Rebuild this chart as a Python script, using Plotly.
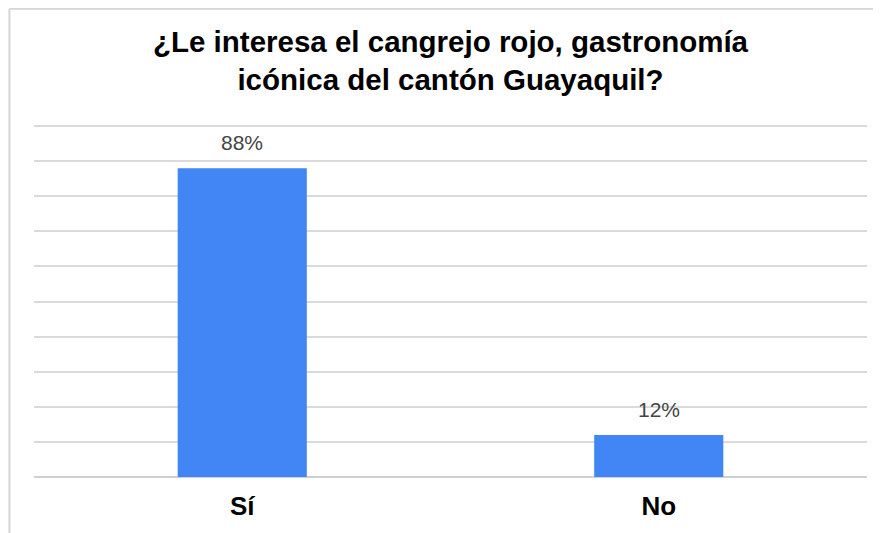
import plotly.graph_objects as go

# respuestas de la encuesta
categorias = ['Sí', 'No']
porcentajes = [88, 12]
etiquetas = ['88%', '12%']

titulo = '¿Le interesa el cangrejo rojo, gastronomía<br>icónica del cantón Guayaquil?'

fig = go.Figure()
fig.add_bar(x=categorias, y=porcentajes, marker_color='#4285f4', marker_line_width=0,
            hoverinfo='x+y')

# etiquetas de valor sobre las barras
for cat, val, txt in zip(categorias, porcentajes, etiquetas):
    fig.add_annotation(x=cat, y=val, text=txt, showarrow=False, yanchor='bottom', yshift=12,
                       font=dict(family='Liberation Sans, Arial', size=21, color='#444444'))

# marco gris de la imagen original (solo izquierda y arriba)
fig.add_shape(type='line', xref='paper', yref='paper', x0=-0.0295, x1=-0.0295, y0=-0.2, y1=1.33,
              line=dict(color='#d6d6d6', width=2))
fig.add_shape(type='line', xref='paper', yref='paper', x0=-0.0295, x1=1.03, y0=1.33, y1=1.33,
              line=dict(color='#d6d6d6', width=2))

# la página añade 8px de margen, por eso 873x525
fig.update_layout(
    width=873, height=525,
    margin=dict(l=26, r=14, t=117, b=56),
    paper_bgcolor='white', plot_bgcolor='white',
    bargap=0.69,
    showlegend=False,
    title=dict(text=titulo, x=0.5, xref='paper', xanchor='center', y=0.917, yanchor='middle',
               font=dict(family='Liberation Sans, Arial', size=29.5, color='#000000', weight='bold')),
    font=dict(family='Liberation Sans, Arial'),
)
fig.update_yaxes(range=[0, 100.3], dtick=10, showticklabels=False, showgrid=True,
                 gridcolor='#dadada', gridwidth=1.5, zeroline=True, zerolinecolor='#d0d0d0',
                 zerolinewidth=1.5, fixedrange=True)
fig.update_xaxes(showgrid=False, ticks='', ticklabelstandoff=11,
                 tickfont=dict(family='Liberation Sans, Arial', size=26, color='#000000', weight='bold'),
                 fixedrange=True)

fig.write_html('out.html')
